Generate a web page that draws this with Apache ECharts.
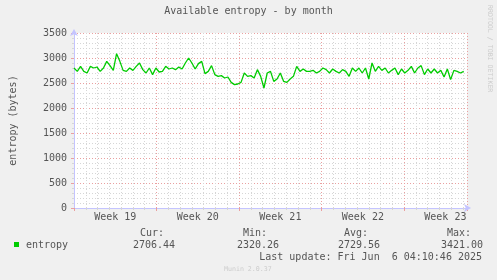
<!DOCTYPE html>
<html>
<head>
<meta charset="utf-8">
<script src="https://cdn.jsdelivr.net/npm/echarts@6/dist/echarts.min.js"></script>
<style>
html,body{margin:0;padding:0;background:#f0f0f0;}
#chart{width:497px;height:280px;}
</style>
</head>
<body>
<div id="chart"></div>
<script>
// ---- data ----
const titleText = 'Available entropy - by month';
const yAxisName = 'entropy (bytes)';
const seriesName = 'entropy';
const weekNumbers = [19, 20, 21, 22, 23];
const daysPerWeek = 7;
const xSpanDays = 400 / 12;          // month view span in days
const sampleStepDays = 1 / 3.6;      // one sample every 6h40m
const yTicks = [0, 500, 1000, 1500, 2000, 2500, 3000, 3500];
const entropyValues = [
  2800, 2733, 2833, 2733, 2700, 2833, 2800, 2820, 2733, 2800,
  2933, 2847, 2753, 3087, 2933, 2753, 2733, 2800, 2753, 2833,
  2900, 2767, 2700, 2800, 2667, 2800, 2720, 2733, 2833, 2780,
  2800, 2767, 2820, 2780, 2900, 3000, 2900, 2780, 2887, 2933,
  2687, 2733, 2847, 2667, 2633, 2647, 2600, 2620, 2513, 2467,
  2480, 2513, 2700, 2633, 2647, 2600, 2767, 2633, 2400,
  2700, 2733, 2533, 2580, 2700, 2533, 2513, 2580, 2633, 2833,
  2733, 2780, 2733, 2733, 2753, 2700, 2733, 2800, 2767, 2700,
  2780, 2733, 2700, 2767, 2733, 2633, 2800, 2733, 2800, 2700,
  2800, 2580, 2900, 2733, 2833, 2753, 2800, 2700, 2753, 2800,
  2667, 2780, 2700, 2753, 2833, 2700, 2800, 2847, 2667, 2780,
  2700, 2780, 2700, 2753, 2620, 2780, 2567, 2753, 2733, 2700,
  2733
];
const statLabels = ['Cur:', 'Min:', 'Avg:', 'Max:'];
const statValues = ['2706.44', '2320.26', '2729.56', '3421.00'];
const lastUpdate = 'Last update: Fri Jun  6 04:10:46 2025';
const footerText = 'Munin 2.0.37';
const sideText = 'RRDTOOL / TOBI OETIKER';

// ---- styles ----
const FONT = 'DejaVu Sans Mono';
const TXT = '#555555';
const MAJOR = '#eaa0a0';
const MINOR = '#d6d6d6';
const AXIS = '#c4c4ff';
const GREEN = '#00cc00';

const seriesData = entropyValues.map((v, i) => [i * sampleStepDays, v]);

const statLabelX = [140, 243, 344, 447];
const statValueX = [133, 237, 338, 441];

const graphics = [
  { type: 'rect', shape: { x: 14, y: 242, width: 5, height: 5 }, style: { fill: GREEN } },
  { type: 'text', x: 26, y: 245, style: { text: seriesName, font: '10px "' + FONT + '"', fill: TXT, verticalAlign: 'middle', align: 'left' } },
  { type: 'text', x: 482, y: 257.5, style: { text: lastUpdate, font: '10px "' + FONT + '"', fill: TXT, verticalAlign: 'middle', align: 'right' } },
  { type: 'text', x: 224, y: 269.5, style: { text: footerText, font: '6.6px "' + FONT + '"', fill: '#cccccc', verticalAlign: 'middle', align: 'left' } },
  { type: 'text', x: 489.5, y: 5, rotation: -Math.PI / 2, style: { text: sideText, font: '6.6px "' + FONT + '"', fill: '#cccccc', verticalAlign: 'middle', align: 'left' } }
];
statLabels.forEach((s, i) => {
  graphics.push({ type: 'text', x: statLabelX[i], y: 233.5, style: { text: s, font: '10px "' + FONT + '"', fill: TXT, verticalAlign: 'middle', align: 'left' } });
  graphics.push({ type: 'text', x: statValueX[i], y: 245, style: { text: statValues[i], font: '10px "' + FONT + '"', fill: TXT, verticalAlign: 'middle', align: 'left' } });
});

const chart = echarts.init(document.getElementById('chart'), null, { renderer: 'canvas' });
chart.setOption({
  animation: false,
  backgroundColor: '#f0f0f0',
  title: {
    text: titleText, left: 'center', top: 6, padding: 0,
    textStyle: { fontFamily: FONT, fontSize: 10, fontWeight: 'normal', color: TXT }
  },
  grid: { left: 67, top: 33, width: 400, height: 175, containLabel: false, show: true, backgroundColor: '#ffffff', borderWidth: 0 },
  xAxis: [
    {
      type: 'value', min: 0, max: xSpanDays, interval: daysPerWeek,
      axisLine: { show: true, lineStyle: { color: AXIS, width: 1 }, symbol: ['none', 'arrow'], symbolSize: [6, 7], symbolOffset: [0, 4] },
      axisTick: { show: true, length: 3, lineStyle: { color: MAJOR } },
      minorTick: { show: true, splitNumber: 7, length: 2, lineStyle: { color: MINOR } },
      axisLabel: { show: false },
      splitLine: { show: true, lineStyle: { color: MAJOR, type: [1, 2], width: 1 } },
      minorSplitLine: { show: true, lineStyle: { color: MINOR, type: [1, 2], width: 1 } },
      z: 3
    },
    {
      type: 'value', min: 0, max: xSpanDays, interval: daysPerWeek / 2, position: 'bottom', offset: 0,
      axisLine: { show: false }, axisTick: { show: false }, splitLine: { show: false },
      axisLabel: {
        show: true, margin: 4, fontFamily: FONT, fontSize: 10, color: TXT,
        showMinLabel: false, showMaxLabel: false,
        formatter: function (v) {
          const k = Math.round(v / (daysPerWeek / 2));
          if (Math.abs(v - k * daysPerWeek / 2) > 0.01 || k % 2 === 0) return '';
          const w = weekNumbers[(k - 1) / 2];
          return w === undefined ? '' : 'Week ' + w;
        }
      }
    }
  ],
  yAxis: {
    type: 'value', min: yTicks[0], max: yTicks[yTicks.length - 1], interval: yTicks[1] - yTicks[0],
    name: yAxisName, nameLocation: 'middle', nameRotate: 90, nameGap: 56,
    nameTextStyle: { fontFamily: FONT, fontSize: 10, color: TXT },
    axisLine: { show: true, lineStyle: { color: AXIS, width: 1 }, symbol: ['none', 'arrow'], symbolSize: [6, 7], symbolOffset: [0, 4] },
    axisTick: { show: true, length: 3, lineStyle: { color: MAJOR } },
    minorTick: { show: true, splitNumber: 5, length: 2, lineStyle: { color: MINOR } },
    axisLabel: { fontFamily: FONT, fontSize: 10, color: TXT, margin: 7, formatter: function (v) { return String(v); } },
    splitLine: { show: true, lineStyle: { color: MAJOR, type: [1, 2], width: 1 } },
    minorSplitLine: { show: true, lineStyle: { color: MINOR, type: [1, 2], width: 1 } },
    z: 3
  },
  series: [{
    name: seriesName, type: 'line', xAxisIndex: 0, data: seriesData,
    showSymbol: false, symbol: 'none', smooth: false,
    lineStyle: { color: GREEN, width: 1.3 }, z: 5
  }],
  graphic: graphics
});
</script>
</body>
</html>
